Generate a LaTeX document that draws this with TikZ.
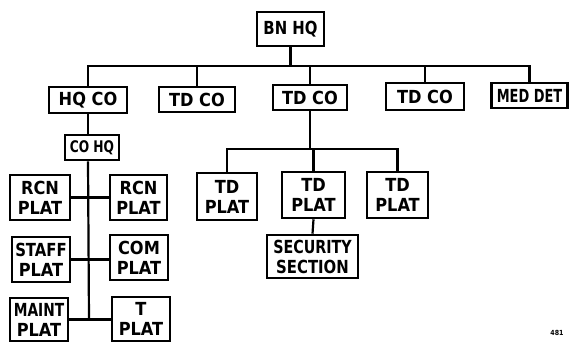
\documentclass[tikz,border=0pt]{standalone}
\usepackage{fontspec}
\newfontfamily\boxfont{DejaVu Sans Condensed}
\tikzset{
  orgbox/.style={draw=black, line width=2.6pt, fill=white, inner sep=0pt,
    align=center, font=\boxfont\bfseries\fontsize{18}{20}\selectfont},
  link/.style={draw=black, line width=2.2pt}
}
\begin{document}
\begin{tikzpicture}[x=1pt,y=-1pt]
\useasboundingbox[fill=white] (0,0) rectangle (569,342);
% top level
\node[orgbox, minimum width=67pt, minimum height=34pt] (bn) at (290.5,29) {\scalebox{0.92}[1]{BN HQ}};
\node[orgbox, minimum width=78pt, minimum height=26pt] (hqco) at (88,100) {HQ CO};
\node[orgbox, minimum width=76pt, minimum height=25pt] (td1) at (197,99.5) {TD CO};
\node[orgbox, minimum width=74pt, minimum height=25pt] (td2) at (310,97.5) {TD CO};
\node[orgbox, minimum width=78pt, minimum height=27pt] (td3) at (425,96.5) {TD CO};
\node[orgbox, minimum width=76pt, minimum height=25pt] (med) at (529.5,95.5) {\scalebox{0.8}[1]{MED DET}};
% HQ CO branch
\node[orgbox, minimum width=54pt, minimum height=25pt, font=\boxfont\bfseries\fontsize{16}{18}\selectfont] (cohq) at (92,147.5) {\scalebox{0.85}[1]{CO HQ}};
\node[orgbox, minimum width=60pt, minimum height=45pt] (rcn1) at (40,197.5) {RCN\\PLAT};
\node[orgbox, minimum width=57pt, minimum height=45pt] (rcn2) at (138.5,197.5) {RCN\\PLAT};
\node[orgbox, minimum width=58pt, minimum height=45pt] (staff) at (41,259.5) {\scalebox{0.92}[1]{STAFF}\\PLAT};
\node[orgbox, minimum width=58pt, minimum height=45pt] (com) at (139,257.5) {COM\\PLAT};
\node[orgbox, minimum width=58pt, minimum height=43pt] (maint) at (39,319.5) {\scalebox{0.85}[1]{MAINT}\\PLAT};
\node[orgbox, minimum width=58pt, minimum height=44pt] (tplat) at (141,319) {T\\PLAT};
% TD CO branch
\node[orgbox, minimum width=60pt, minimum height=47pt] (tdp1) at (227,196.5) {TD\\PLAT};
\node[orgbox, minimum width=63pt, minimum height=46pt] (tdp2) at (313.5,195) {TD\\PLAT};
\node[orgbox, minimum width=61pt, minimum height=46pt] (tdp3) at (397.5,195) {TD\\PLAT};
\node[orgbox, minimum width=91pt, minimum height=43pt] (sec) at (312.5,256.5) {\scalebox{0.88}[1]{SECURITY}\\\scalebox{0.92}[1]{SECTION}};
% page number
\node[font=\boxfont\bfseries\fontsize{7}{8}\selectfont, inner sep=0pt] (pg) at (557,333) {481};
% coordinates for buses
\coordinate (bus1) at (0,66);
\coordinate (bus2) at (0,149);
\coordinate (spine) at (89,320);
% top bus
\draw[link] (bn.south) -- (bn.south |- bus1);
\draw[link] (hqco.north) -- (hqco.north |- bus1) -- (med.north |- bus1) -- (med.north);
\draw[link] (td1.north) -- (td1.north |- bus1);
\draw[link] (td2.north) -- (td2.north |- bus1);
\draw[link] (td3.north) -- (td3.north |- bus1);
% HQ CO spine
\draw[link] (hqco.south) -- (hqco.south |- cohq.north);
\draw[link] (hqco.south |- cohq.south) -- (spine);
\draw[link] (rcn1.east) -- (rcn2.west);
\draw[link] (staff.east) -- (com.west |- staff.east);
\draw[link] (maint.east) -- (tplat.west |- maint.east);
% TD CO branch
\draw[link] (td2.south) -- (td2.south |- bus2);
\draw[link] (tdp1.north) -- (tdp1.north |- bus2) -- (tdp3.north |- bus2) -- (tdp3.north);
\draw[link] (tdp2.north) -- (tdp2.north |- bus2);
\draw[link] (tdp2.south) -- (sec.north);
\end{tikzpicture}
\end{document}
